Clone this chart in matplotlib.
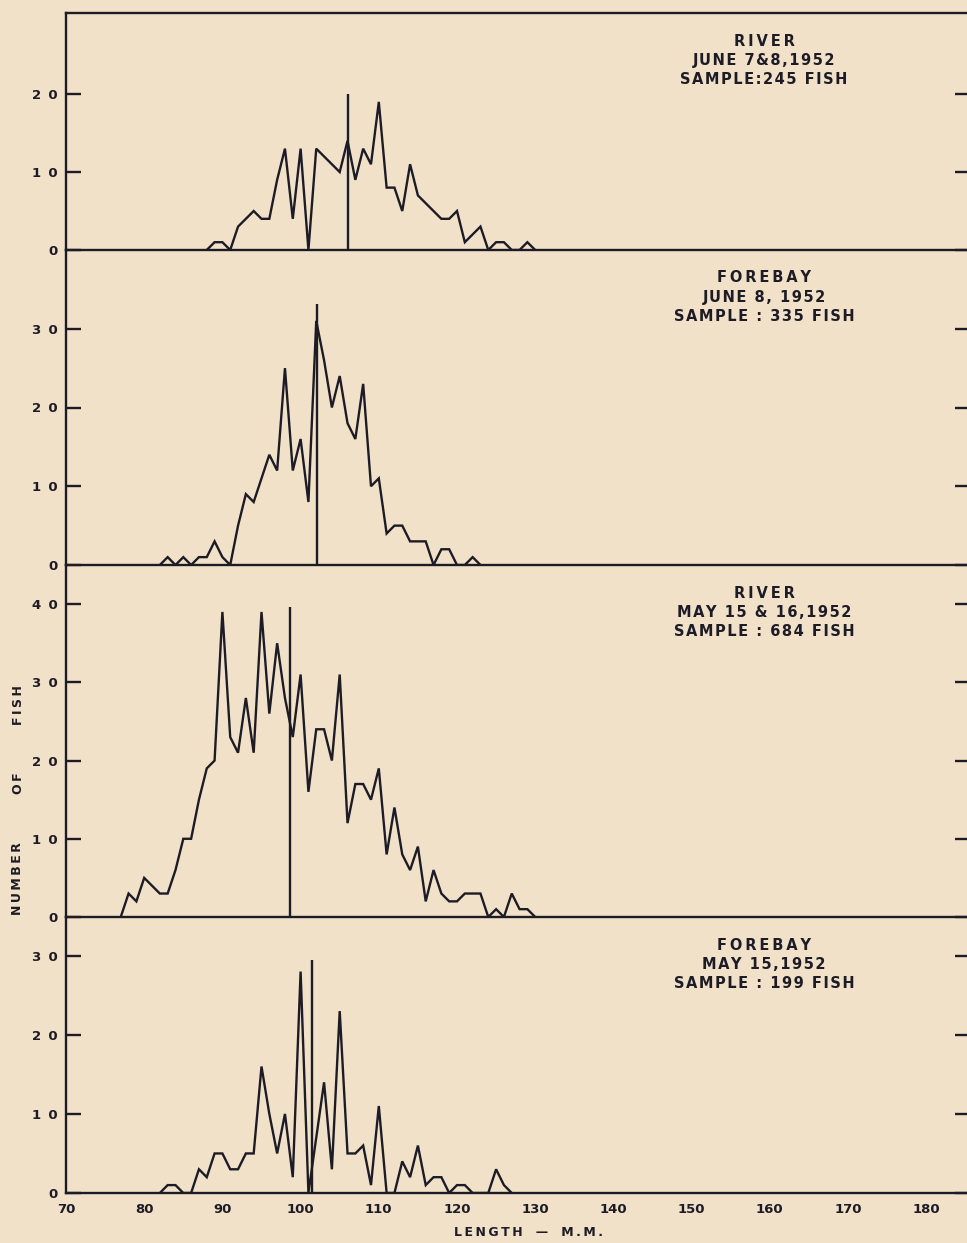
import numpy as np
import matplotlib.pyplot as plt

# Length-frequency counts (number of fish per mm), first value at the start length
river_june_start = 88
river_june = [0, 1, 1, 0, 3, 4, 5, 4, 4, 9, 13, 4, 13, 0, 13, 12, 11, 10, 14, 9,
              13, 11, 19, 8, 8, 5, 11, 7, 6, 5, 4, 4, 5, 1, 2, 3, 0, 1, 1, 0,
              0, 1, 0]

forebay_june_start = 82
forebay_june = [0, 1, 0, 1, 0, 1, 1, 3, 1, 0, 5, 9, 8, 11, 14, 12, 25, 12, 16, 8,
                31, 26, 20, 24, 18, 16, 23, 10, 11, 4, 5, 5, 3, 3, 3, 0, 2, 2, 0, 0,
                1, 0]

river_may_start = 77
river_may = [0, 3, 2, 5, 4, 3, 3, 6, 10, 10, 15, 19, 20, 39, 23, 21, 28, 21, 39, 26,
             35, 28, 23, 31, 16, 24, 24, 20, 31, 12, 17, 17, 15, 19, 8, 14, 8, 6, 9, 2,
             6, 3, 2, 2, 3, 3, 3, 0, 1, 0, 3, 1, 1, 0]

forebay_may_start = 82
forebay_may = [0, 1, 1, 0, 0, 3, 2, 5, 5, 3, 3, 5, 5, 16, 10, 5, 10, 2, 28, 0,
               7, 14, 3, 23, 5, 5, 6, 1, 11, 0, 0, 4, 2, 6, 1, 2, 2, 0, 1, 1,
               0, 0, 0, 3, 1, 0]

# middle length of each sample (vertical marker) and the marker height
mid_length = [106.0, 102.1, 98.7, 101.5]
mid_height = [20.0, 33.2, 39.6, 29.4]

titles = [["RIVER", "JUNE 7&8,1952", "SAMPLE:245 FISH"],
          ["FOREBAY", "JUNE 8, 1952", "SAMPLE : 335 FISH"],
          ["RIVER", "MAY 15 & 16,1952", "SAMPLE : 684 FISH"],
          ["FOREBAY", "MAY 15,1952", "SAMPLE : 199 FISH"]]

y_ticks = [[0, 10, 20], [0, 10, 20, 30], [0, 10, 20, 30, 40], [0, 10, 20, 30]]
x_ticks = [70, 80, 90, 100, 110, 120, 130, 140, 150, 160, 170, 180]

series = [(river_june_start, river_june),
          (forebay_june_start, forebay_june),
          (river_may_start, river_may),
          (forebay_may_start, forebay_may)]

paper = '#f1e1c8'
ink = '#1d1c26'
W, H = 967, 1243

# panel edges in pixels and the top of each count axis
top_px = [13, 250, 565, 917]
bot_px = [250, 565, 917, 1193]
y_top = [30.4, 40.0, 45.0, 34.9]
left_px, right_px = 66, 970


def spaced(s, gap='\u2009'):
    return gap.join(s)


fig = plt.figure(figsize=(W / 100, H / 100), dpi=100)
fig.patch.set_facecolor(paper)
plt.rcParams['font.family'] = 'DejaVu Sans'
plt.rcParams['font.weight'] = 'bold'

for i, (start, counts) in enumerate(series):
    ax = fig.add_axes([left_px / W, 1 - bot_px[i] / H,
                       (right_px - left_px) / W, (bot_px[i] - top_px[i]) / H])
    ax.set_facecolor('none')
    lengths = np.arange(start, start + len(counts))
    ax.plot(lengths, counts, color=ink, lw=1.7, solid_joinstyle='miter')
    ax.vlines(mid_length[i], 0, mid_height[i], color=ink, lw=1.7)
    ax.set_xlim(70, 185.6)
    ax.set_ylim(0, y_top[i])

    for side in ['left', 'right', 'bottom', 'top']:
        ax.spines[side].set_color(ink)
        ax.spines[side].set_linewidth(1.7)
    ax.spines['top'].set_visible(i == 0)

    ax.set_yticks(y_ticks[i])
    ax.set_yticklabels([' \u2009'.join(str(v)) for v in y_ticks[i]],
                       fontsize=9.5, fontweight='bold', color=ink)
    ax.tick_params(axis='y', direction='in', length=11, width=1.7,
                   left=True, right=True, colors=ink, pad=6)
    ax.set_xticks(x_ticks)
    if i == 3:
        ax.set_xticklabels([str(v) for v in x_ticks], fontsize=9.5,
                           fontweight='bold', color=ink)
        ax.tick_params(axis='x', length=0, pad=7)
    else:
        ax.tick_params(axis='x', length=0, labelbottom=False)

    for j, line in enumerate(titles[i]):
        txt = spaced(line) if j == 0 else spaced(line, '\u200a')
        fig.text(764 / W, 1 - (top_px[i] + 28 + 19.5 * j) / H, txt,
                 ha='center', va='center', fontsize=10.5, fontweight='bold',
                 color=ink)

# rotated axis title, one word at a time
for word, yc in [('NUMBER', 879), ('OF', 783), ('FISH', 705)]:
    fig.text(18 / W, 1 - yc / H, spaced(word), rotation=90,
             ha='center', va='center', fontsize=9, fontweight='bold', color=ink)
fig.text(528 / W, 1 - 1233 / H, spaced('LENGTH') + '   —   ' + spaced('M.M.'),
         ha='center', va='center', fontsize=9, fontweight='bold', color=ink)

fig.savefig('out.png', dpi=100, facecolor=paper)
